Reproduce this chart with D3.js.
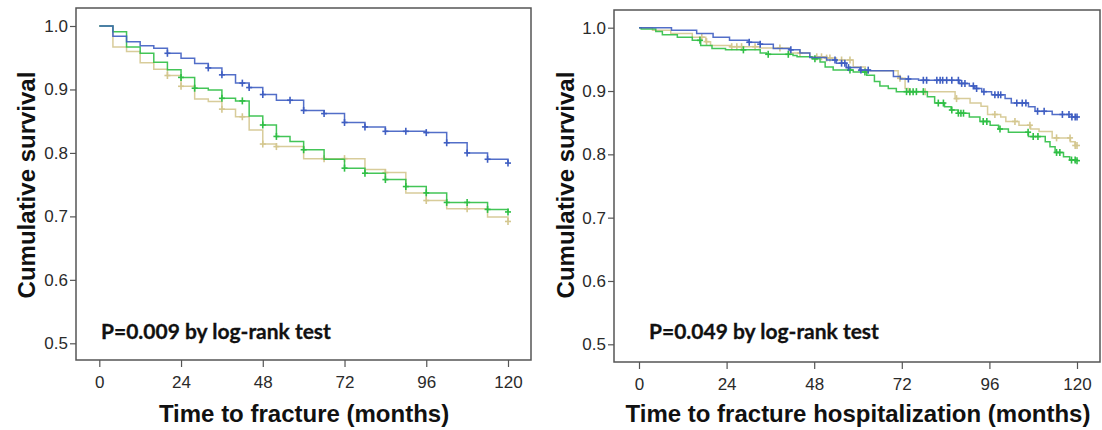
<!DOCTYPE html>
<html><head><meta charset="utf-8">
<script src="https://cdn.jsdelivr.net/npm/d3@7/dist/d3.min.js"></script>
<style>body{margin:0;background:#fff}svg{display:block}</style>
</head><body>
<svg id="c" width="1102" height="430"></svg>
<script>
// ---------- DATA ----------
const yTicks = [0.5, 0.6, 0.7, 0.8, 0.9, 1.0];
const xTicks = [0, 24, 48, 72, 96, 120];
const seriesNames = ["blue", "green", "tan"];
const seriesColors = ["#3f5ec2", "#2fbf45", "#d4c78f"];

// Left panel: time to fracture — [month, cumulative survival] steps
const leftBlue = [[0,1.0],[4,0.984],[8,0.975],[12,0.969],[16,0.965],[20,0.957],[24,0.949],[28,0.941],[32,0.934],[36,0.923],[40,0.910],[44,0.903],[48,0.892],[52,0.883],[60,0.867],[66,0.862],[72,0.848],[78,0.841],[84,0.834],[96,0.832],[102,0.816],[108,0.800],[114,0.790],[120,0.784]];
const leftGreen = [[0,1.0],[4,0.991],[8,0.967],[12,0.957],[16,0.943],[20,0.931],[24,0.919],[28,0.902],[32,0.899],[36,0.886],[40,0.882],[44,0.858],[48,0.844],[52,0.826],[56,0.818],[60,0.805],[66,0.790],[72,0.776],[78,0.768],[84,0.758],[90,0.747],[96,0.737],[102,0.722],[114,0.711],[120,0.707]];
const leftTan = [[0,1.0],[4,0.967],[8,0.960],[12,0.942],[16,0.932],[20,0.922],[24,0.905],[28,0.885],[32,0.881],[36,0.869],[40,0.857],[44,0.836],[48,0.814],[52,0.810],[60,0.791],[78,0.774],[84,0.769],[90,0.737],[96,0.725],[102,0.712],[114,0.699],[120,0.692]];
const leftBlueCens = [20,32,36,42,44,48,56,60,66,72,78,84,90,96,102,108,114,120];
const leftGreenCens = [24,28,36,42,48,52,60,72,78,84,90,96,102,108,114,120];
const leftTanCens = [20,24,36,42,48,52,66,72,84,96,108,120];

// Right panel: time to fracture hospitalization
const rightBlue = [[0,1.0],[8.9,0.996],[15.8,0.991],[20.3,0.985],[24.8,0.980],[29.9,0.977],[33.2,0.974],[36.8,0.967],[41.4,0.965],[44.1,0.960],[46.8,0.953],[51.4,0.949],[54.1,0.944],[56.8,0.937],[60.5,0.933],[63.3,0.932],[69.7,0.923],[71.6,0.919],[76.6,0.917],[87.7,0.912],[90.5,0.908],[92,0.904],[93.9,0.899],[96.6,0.894],[100.3,0.888],[102,0.881],[106.7,0.875],[108.5,0.868],[113.2,0.863],[118.6,0.859],[120,0.859]];
const rightGreen = [[0,1.0],[0.6,0.998],[4.6,0.994],[6.4,0.989],[10.5,0.985],[14.6,0.980],[16.9,0.972],[20,0.967],[23.7,0.965],[33.2,0.960],[34.9,0.958],[42.2,0.956],[43.3,0.954],[47.4,0.951],[49.6,0.946],[51,0.938],[53.2,0.933],[58.7,0.930],[62.4,0.925],[64.5,0.915],[66,0.908],[68.3,0.904],[70.5,0.899],[79,0.891],[81,0.881],[83.7,0.875],[85.5,0.870],[87.4,0.865],[90.5,0.859],[93.4,0.852],[96.2,0.846],[98.5,0.840],[101.2,0.835],[106.7,0.828],[111.3,0.820],[112.6,0.812],[114,0.803],[116.3,0.796],[118,0.791],[120,0.790]];
const rightTan = [[0,1.0],[3.7,0.996],[8.7,0.991],[14.6,0.985],[18.3,0.978],[19.6,0.972],[25,0.970],[33,0.968],[41.4,0.960],[46.8,0.954],[51.4,0.952],[54.1,0.949],[58.7,0.938],[62,0.932],[71,0.920],[72.9,0.904],[73.8,0.899],[86.6,0.888],[90.7,0.881],[93.7,0.876],[95.5,0.863],[99.1,0.859],[100.5,0.852],[104.1,0.846],[107.3,0.840],[109.6,0.836],[113.2,0.826],[118.2,0.820],[119.5,0.814],[120,0.814]];
const rightBlueCens = [30.2,33.2,41.6,53.7,55.5,56.4,57.4,60.8,62.8,73.8,77.9,78.8,81.6,82.5,83.2,84.3,85.7,87.5,88.4,89.3,91.6,92.5,94.5,97.5,98.4,99.1,103.5,105,106,109.2,111,116,117.8,118.6,119.5,120];
const rightGreenCens = [16.7,28.6,35.4,40.9,48.2,57.8,61.9,73.3,74.2,75.1,76,77.9,82,83.4,85.7,87.5,88.2,88.9,94.3,95.3,98.9,106.6,108,109.3,114.4,115.3,118.5,119.5,120];
const rightTanCens = [17.2,18.5,25.4,26.8,28.1,31.8,38.6,44.1,48.7,50,51.4,52.3,55.5,57.8,71.5,74.2,78.4,87,97.5,103,107.1,114.4,118.1,119.5,120];

const yTitle = "Cumulative survival";
const panels = [
  {xTitle: "Time to fracture (months)", pText: "P=0.009 by log-rank test",
   series: [leftTan, leftGreen, leftBlue], cens: [leftTanCens, leftGreenCens, leftBlueCens], colorIdx: [2,1,0],
   frame: {l: 76, r: 531, t: 8, b: 360}, xr: [99.3, 508], yr: [343.3, 26],
   yTitleX: 35, pX: 101, xTitleX: 304},
  {xTitle: "Time to fracture hospitalization (months)", pText: "P=0.049 by log-rank test",
   series: [rightTan, rightGreen, rightBlue], cens: [rightTanCens, rightGreenCens, rightBlueCens], colorIdx: [2,1,0],
   frame: {l: 614, r: 1100, t: 10, b: 362}, xr: [639, 1077], yr: [344.3, 27.7],
   yTitleX: 574, pX: 649, xTitleX: 858}
];

// ---------- DRAW ----------
const svg = d3.select("#c");
svg.append("rect").attr("width",1102).attr("height",430).attr("fill","#fff");

function stepVal(data, t){
  let v = data[0][1];
  for (const d of data){ if (d[0] <= t + 1e-9) v = d[1]; else break; }
  return v;
}

panels.forEach(p => {
  const g = svg.append("g");
  const x = d3.scaleLinear().domain([0,120]).range(p.xr);
  const y = d3.scaleLinear().domain([0.5,1.0]).range(p.yr);
  const f = p.frame;

  g.append("rect").attr("x",f.l).attr("y",f.t).attr("width",f.r-f.l).attr("height",f.b-f.t)
    .attr("fill","none").attr("stroke","#555").attr("stroke-width",1.5);

  const yAxis = d3.axisLeft(y).tickValues(yTicks).tickFormat(d3.format(".1f")).tickSize(6).tickSizeOuter(0);
  const ya = g.append("g").attr("transform",`translate(${f.l},0)`).call(yAxis);
  ya.select(".domain").remove();
  ya.selectAll("line").attr("stroke","#555").attr("stroke-width",1.2);
  ya.selectAll("text").attr("font-family","Liberation Sans, Arial, sans-serif").attr("font-size",17).attr("fill","#2a2a2a").attr("x",-8);

  const xAxis = d3.axisBottom(x).tickValues(xTicks).tickFormat(d3.format("d")).tickSize(7).tickSizeOuter(0);
  const xa = g.append("g").attr("transform",`translate(0,${f.b})`).call(xAxis);
  xa.select(".domain").remove();
  xa.selectAll("line").attr("stroke","#555").attr("stroke-width",1.2);
  xa.selectAll("text").attr("font-family","Liberation Sans, Arial, sans-serif").attr("font-size",17).attr("fill","#2a2a2a").attr("y",16);

  const line = d3.line().x(d => x(d[0])).y(d => y(d[1])).curve(d3.curveStepAfter);
  p.series.forEach((s, i) => {
    const col = seriesColors[p.colorIdx[i]];
    g.append("path").datum(s).attr("d", line).attr("fill","none")
      .attr("stroke", col).attr("stroke-width",1.5).attr("stroke-opacity",0.9);
    const cg = g.append("g").attr("stroke", col).attr("stroke-width",1.6);
    p.cens[i].forEach(t => {
      const cx = x(t), cy = y(stepVal(s, t));
      cg.append("line").attr("x1",cx).attr("x2",cx).attr("y1",cy-3.5).attr("y2",cy+3.5);
      cg.append("line").attr("x1",cx-3).attr("x2",cx+3).attr("y1",cy).attr("y2",cy);
    });
  });

  g.append("text").attr("x", p.pX).attr("y", 339).text(p.pText)
    .attr("font-family","Lato, 'Open Sans', sans-serif").attr("font-weight","bold")
    .attr("font-size",21).attr("fill","#111").attr("stroke","#111").attr("stroke-width",0.3);

  g.append("text").attr("x", p.xTitleX).attr("y", 422).attr("text-anchor","middle").text(p.xTitle)
    .attr("font-family","Liberation Sans, Arial, sans-serif").attr("font-weight","bold")
    .attr("font-size",24).attr("fill","#111");

  g.append("text").attr("transform",`translate(${p.yTitleX},185) rotate(-90)`).attr("text-anchor","middle").text(yTitle)
    .attr("font-family","Liberation Sans, Arial, sans-serif").attr("font-weight","bold")
    .attr("font-size",24).attr("fill","#111");
});
</script>
</body></html>
